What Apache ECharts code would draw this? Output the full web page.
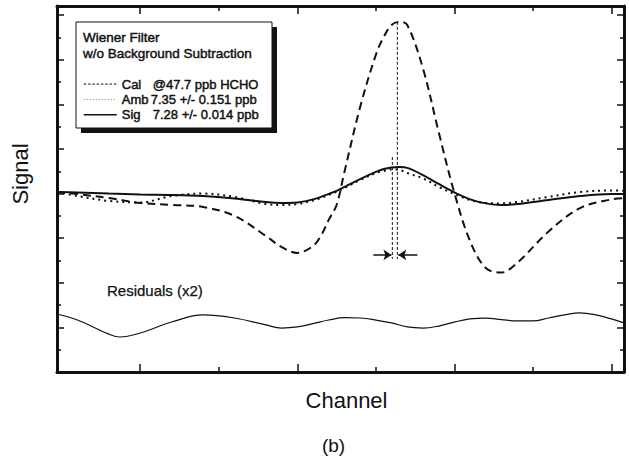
<!DOCTYPE html>
<html>
<head>
<meta charset="utf-8">
<script src="https://cdn.jsdelivr.net/npm/echarts@6/dist/echarts.min.js"></script>
<style>
  html, body { margin: 0; padding: 0; background: #fff; }
  #chart { width: 629px; height: 457px; }
</style>
</head>
<body>
<div id="chart"></div>
<script>
// Filtered spectra (signal in axis-tick units) sampled over the channel range
const channels = [47, 60, 80, 100, 120, 140, 160, 180, 190, 200, 210, 215, 220, 225, 230, 240,
                  250, 255, 260, 265, 270, 280, 290, 300, 310, 320, 330, 340, 360, 380, 400, 408];
const cal = [8.07, 7.98, 7.80, 7.58, 7.49, 7.40, 7.00, 6.10, 5.60, 5.34, 5.65, 6.10, 6.82, 7.49, 8.97, 11.88,
             14.22, 15.02, 15.56, 15.70, 15.56, 13.61, 10.76, 8.03, 5.87, 4.66, 4.46, 4.89, 6.30, 7.35, 7.74, 7.80];
const amb = [8.07, 7.89, 7.67, 7.60, 7.89, 8.00, 7.85, 7.53, 7.49, 7.53, 7.69, 7.80, 7.94, 8.08, 8.25, 8.61,
             8.92, 9.01, 9.08, 9.06, 8.92, 8.68, 8.30, 7.98, 7.71, 7.58, 7.56, 7.62, 7.85, 8.07, 8.14, 8.12];
const sig = [8.07, 8.05, 8.00, 7.96, 7.94, 7.89, 7.78, 7.62, 7.58, 7.60, 7.74, 7.85, 7.98, 8.12, 8.30, 8.65,
             8.97, 9.10, 9.17, 9.19, 9.15, 8.83, 8.43, 8.05, 7.74, 7.56, 7.49, 7.53, 7.71, 7.89, 7.98, 7.98];

// Fit residuals (x2), offset below the spectra
const residualChannels = [47, 60, 80, 87, 100, 120, 140, 160, 180, 190, 200, 210, 220, 230, 240, 250,
                          260, 270, 280, 290, 300, 310, 320, 330, 340, 350, 360, 370, 380, 390, 400, 408];
const residuals = [2.60, 2.33, 1.70, 1.57, 1.75, 2.24, 2.56, 2.42, 2.11, 1.97, 2.02, 2.17, 2.33, 2.44, 2.42, 2.33,
                   2.20, 2.02, 1.97, 2.06, 2.24, 2.38, 2.42, 2.35, 2.29, 2.29, 2.42, 2.56, 2.65, 2.56, 2.38, 2.20];

// Peak positions of the calibration and ambient fits, and the shift arrows
const calPeak = [263.7, 15.70];
const ambPeak = [260.5, 9.64];
const markerFoot = 5.07;
const arrowLevel = 5.25;
const arrowLeft = [248.4, 259.9];
const arrowRight = [276.4, 264.3];

// Tick positions
const channelMajorTicks = [100, 200, 300, 400];
const channelMinorTicks = [150, 250, 350];
const signalMajorTicks = [0, 2, 4, 6, 8, 10, 12, 14, 16];
const signalMinorTicks = [1, 3, 5, 7, 9, 11, 13, 15];
const channelRange = [47, 408];
const signalRange = [0, 16.41];

// Legend entries
const seriesNames = ['Cal', 'Amb', 'Sig'];
const seriesNotes = ['@47.7 ppb HCHO', '7.35 +/- 0.151 ppb', '7.28 +/- 0.014 ppb'];
const boxTitle = ['Wiener Filter', 'w/o Background Subtraction'];

const FONT = '"Liberation Sans", Arial, sans-serif';
const INK = '#111';

const pairs = (xs, ys) => xs.map((x, i) => [x, ys[i]]);

function xAxisDef(position, ticks, len, line) {
  return {
    type: 'value', position, min: channelRange[0], max: channelRange[1],
    axisLine: { show: line, onZero: false, lineStyle: { color: INK, width: 3 } },
    axisTick: { show: true, inside: true, length: len, customValues: ticks, lineStyle: { color: INK, width: 1.5 } },
    axisLabel: { show: false }, splitLine: { show: false }
  };
}
function yAxisDef(position, ticks, len, line) {
  return {
    type: 'value', position, min: signalRange[0], max: signalRange[1],
    axisLine: { show: line, onZero: false, lineStyle: { color: INK, width: 3 } },
    axisTick: { show: true, inside: true, length: len, customValues: ticks, lineStyle: { color: INK, width: 1.5 } },
    axisLabel: { show: false }, splitLine: { show: false }
  };
}

// Slight outline so the box lettering reads as heavy as the printed figure
const heavyInk = { fill: INK, stroke: INK, lineWidth: 0.45 };
const plainInk = { fill: INK };
const hiddenMarker = { color: 'rgba(0,0,0,0)', borderColor: 'rgba(0,0,0,0)', borderWidth: 0, opacity: 0 };

const chart = echarts.init(document.getElementById('chart'), null, { renderer: 'svg' });

chart.setOption({
  animation: false,
  backgroundColor: '#fff',
  grid: { left: 57, top: 6, right: 5, bottom: 85, containLabel: false },
  xAxis: [
    xAxisDef('bottom', channelMajorTicks, 8, true),
    xAxisDef('bottom', channelMinorTicks, 5, false),
    xAxisDef('top', channelMajorTicks, 8, true),
    xAxisDef('top', channelMinorTicks, 5, false)
  ],
  yAxis: [
    yAxisDef('left', signalMajorTicks, 7, true),
    yAxisDef('left', signalMinorTicks, 4, false),
    yAxisDef('right', signalMajorTicks, 7, true),
    yAxisDef('right', signalMinorTicks, 4, false)
  ],
  legend: {
    orient: 'vertical', left: 83, top: 76.6, padding: 0,
    itemWidth: 33, itemHeight: 10, itemGap: 0.3,
    selectedMode: false, z: 20,
    itemStyle: hiddenMarker,
    data: [
      { name: 'Cal', itemStyle: hiddenMarker, lineStyle: { color: INK, width: 1, type: [2.5, 1.8] } },
      { name: 'Amb', itemStyle: hiddenMarker, lineStyle: { color: '#777', width: 1, type: [1, 2] } },
      { name: 'Sig', itemStyle: hiddenMarker, lineStyle: { color: INK, width: 1.5, type: 'solid' } }
    ],
    formatter: name => {
      const i = seriesNames.indexOf(name);
      return '{' + (name === 'Amb' ? 'w' : 'n') + '|' + name + '}' + seriesNotes[i];
    },
    textStyle: {
      fontFamily: FONT, fontSize: 13, color: INK, lineHeight: 15,
      textBorderColor: INK, textBorderWidth: 0.45,
      rich: { n: { width: 31 }, w: { width: 29 } }
    }
  },
  series: [
    {
      name: 'Cal', type: 'line', data: pairs(channels, cal), smooth: 0.35, symbol: 'none',
      lineStyle: { color: INK, width: 2, type: [8, 5] }, z: 3
    },
    {
      name: 'Amb', type: 'line', data: pairs(channels, amb), smooth: 0.35, symbol: 'none',
      lineStyle: { color: INK, width: 2, type: [2, 4] }, z: 3
    },
    {
      name: 'Sig', type: 'line', data: pairs(channels, sig), smooth: 0.35, symbol: 'none',
      lineStyle: { color: INK, width: 2 }, z: 4
    },
    {
      name: 'Residuals', type: 'line', data: pairs(residualChannels, residuals), smooth: 0.4, symbol: 'none',
      lineStyle: { color: INK, width: 1.2 }
    },
    {
      name: 'Cal peak', type: 'line', symbol: 'none',
      data: [calPeak, [calPeak[0], markerFoot]],
      lineStyle: { color: INK, width: 1, type: [3, 2] }
    },
    {
      name: 'Amb peak', type: 'line', symbol: 'none',
      data: [ambPeak, [ambPeak[0], markerFoot]],
      lineStyle: { color: INK, width: 1, type: [3, 2] }
    },
    {
      name: 'Shift', type: 'lines', coordinateSystem: 'cartesian2d',
      symbol: ['none', 'arrow'], symbolSize: 8,
      lineStyle: { color: INK, width: 1.5, opacity: 1, curveness: 0 },
      data: [
        { coords: [[arrowLeft[0], arrowLevel], [arrowLeft[1], arrowLevel]] },
        { coords: [[arrowRight[0], arrowLevel], [arrowRight[1], arrowLevel]] }
      ]
    }
  ],
  graphic: [
    { type: 'rect', z: 5, shape: { x: 81, y: 27, width: 196, height: 106 }, style: { fill: INK } },
    { type: 'rect', z: 6, shape: { x: 76, y: 22, width: 196, height: 106 }, style: { fill: '#fff', stroke: INK, lineWidth: 1 } },
    { type: 'text', z: 7, x: 83, y: 37.5, style: Object.assign({ text: boxTitle[0], font: '13.5px ' + FONT, verticalAlign: 'middle' }, heavyInk) },
    { type: 'text', z: 7, x: 83, y: 53, style: Object.assign({ text: boxTitle[1], font: '13.5px ' + FONT, verticalAlign: 'middle' }, heavyInk) },
    { type: 'text', x: 107, y: 290, style: Object.assign({ text: 'Residuals (x2)', font: '15px ' + FONT, verticalAlign: 'middle' }, { fill: INK, stroke: INK, lineWidth: 0.25 }) },
    { type: 'text', x: 20, y: 174, rotation: Math.PI / 2, style: Object.assign({ text: 'Signal', font: '22px ' + FONT, align: 'center', verticalAlign: 'middle' }, plainInk) },
    { type: 'text', x: 346.5, y: 400, style: Object.assign({ text: 'Channel', font: '22px ' + FONT, align: 'center', verticalAlign: 'middle' }, plainInk) },
    { type: 'text', x: 333.5, y: 445, style: Object.assign({ text: '(b)', font: '19px ' + FONT, align: 'center', verticalAlign: 'middle' }, plainInk) }
  ]
});
</script>
</body>
</html>
